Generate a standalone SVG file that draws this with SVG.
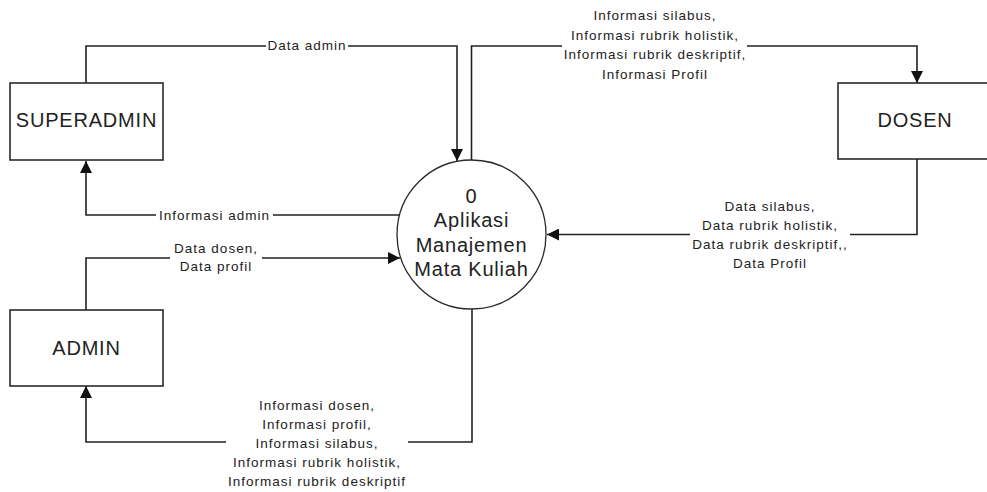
<svg xmlns="http://www.w3.org/2000/svg" width="987" height="492" viewBox="0 0 987 492">
  <style>
    .box { fill: #ffffff; stroke: #2a2a2a; stroke-width: 1.6; }
    .proc { fill: #ffffff; stroke: #2a2a2a; stroke-width: 1.3; }
    .big { font-family: "Liberation Sans", Arial, sans-serif; font-size: 20px; letter-spacing: 0.8px; fill: #222; text-anchor: middle; }
    .lbl { font-family: "Liberation Sans", Arial, sans-serif; font-size: 13.5px; letter-spacing: 1px; fill: #222; text-anchor: middle; }
    .flow { fill: none; stroke: #222; stroke-width: 1.6; }
  </style>
  <defs>
    <marker id="arrow" viewBox="0 0 12 12" refX="12" refY="6" markerWidth="12" markerHeight="12" markerUnits="userSpaceOnUse" orient="auto">
      <path d="M0,0 L12,6 L0,12 Z" fill="#111"/>
    </marker>
  </defs>
  <rect width="987" height="492" fill="#ffffff"/>

  <!-- data flows -->
  <g id="connectors">
    <!-- SUPERADMIN -> process -->
    <path class="flow" d="M86,83 V46 H457 V161" marker-end="url(#arrow)"/>
    <!-- process -> SUPERADMIN -->
    <path class="flow" d="M400,215 H86 V161" marker-end="url(#arrow)"/>
    <!-- process -> DOSEN -->
    <path class="flow" d="M471.5,160 V46 H562 M747,46 H917 V83" marker-end="url(#arrow)"/>
    <!-- DOSEN -> process -->
    <path class="flow" d="M917,159 V234.5 H850 M690,234.5 H547" marker-end="url(#arrow)"/>
    <!-- ADMIN -> process -->
    <path class="flow" d="M86,310 V258 H170 M262,258 H400" marker-end="url(#arrow)"/>
    <!-- process -> ADMIN -->
    <path class="flow" d="M472,309 V442 H408 M226,442 H86 V386" marker-end="url(#arrow)"/>
  </g>

  <!-- flow labels -->
  <g id="flow-labels">
    <rect x="266" y="38" width="82" height="16" fill="#ffffff"/>
    <text class="lbl" x="307" y="50">Data admin</text>
    <rect x="156" y="207" width="117" height="16" fill="#ffffff"/>
    <text class="lbl" x="214.5" y="220">Informasi admin</text>
    <text class="lbl" x="655" y="20">Informasi silabus,</text>
    <text class="lbl" x="655" y="39.5">Informasi rubrik holistik,</text>
    <text class="lbl" x="655" y="59">Informasi rubrik deskriptif,</text>
    <text class="lbl" x="655" y="78.5">Informasi Profil</text>
    <text class="lbl" x="770" y="211">Data silabus,</text>
    <text class="lbl" x="770" y="230">Data rubrik holistik,</text>
    <text class="lbl" x="770" y="249">Data rubrik deskriptif,,</text>
    <text class="lbl" x="770" y="268">Data Profil</text>
    <text class="lbl" x="216" y="252.5">Data dosen,</text>
    <text class="lbl" x="216" y="271">Data profil</text>
    <text class="lbl" x="317" y="410">Informasi dosen,</text>
    <text class="lbl" x="317" y="429">Informasi profil,</text>
    <text class="lbl" x="317" y="448">Informasi silabus,</text>
    <text class="lbl" x="317" y="467">Informasi rubrik holistik,</text>
    <text class="lbl" x="317" y="486">Informasi rubrik deskriptif</text>
  </g>

  <g id="superadmin">
    <rect class="box" x="10" y="83" width="153" height="77"/>
    <text class="big" x="86.5" y="127">SUPERADMIN</text>
  </g>

  <g id="admin">
    <rect class="box" x="10" y="310" width="153" height="76"/>
    <text class="big" x="86.5" y="355">ADMIN</text>
  </g>

  <g id="dosen">
    <rect class="box" x="838" y="83" width="155" height="76"/>
    <text class="big" x="915" y="127">DOSEN</text>
  </g>

  <g id="process-0">
    <circle class="proc" cx="471.5" cy="234.5" r="74.5"/>
    <text class="big" x="471.5" y="203">0</text>
    <text class="big" x="471.5" y="227">Aplikasi</text>
    <text class="big" x="471.5" y="251.5">Manajemen</text>
    <text class="big" x="471.5" y="276">Mata Kuliah</text>
  </g>
</svg>
